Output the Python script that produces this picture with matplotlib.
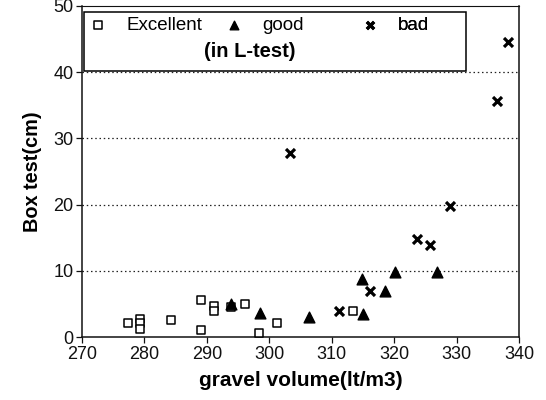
import matplotlib
matplotlib.use("Agg")
import matplotlib.pyplot as plt
from matplotlib.patches import Rectangle

plt.rcParams['font.family'] = ['Liberation Sans', 'DejaVu Sans']

# gravel volume (lt/m3) and box test (cm), grouped by L-test result
excellent_x = [277.3, 279.3, 279.3, 279.3, 284.2, 289.0, 289.0, 291.1, 291.1,
               293.8, 296.1, 298.4, 301.2, 313.4]
excellent_y = [2.1, 2.7, 2.2, 1.2, 2.6, 5.6, 1.1, 4.7, 4.0,
               4.5, 5.0, 0.7, 2.1, 4.0]

good_x = [293.8, 298.5, 306.3, 314.9, 315.0, 318.5, 320.1, 326.8]
good_y = [5.0, 3.6, 3.0, 8.8, 3.5, 6.9, 9.9, 9.9]

bad_x = [303.3, 311.1, 316.1, 323.7, 325.7, 328.9, 336.4, 338.2]
bad_y = [27.8, 4.0, 6.9, 14.9, 13.9, 19.8, 35.7, 44.5]

x_ticks = [270, 280, 290, 300, 310, 320, 330, 340]
y_ticks = [0, 10, 20, 30, 40, 50]

fig = plt.figure(figsize=(5.46, 4.0), dpi=100)
ax = fig.add_axes([0.150, 0.157, 0.801, 0.828])

ax.set_xlim(270, 340)
ax.set_ylim(0, 50)
ax.set_xticks(x_ticks)
ax.set_yticks(y_ticks)
ax.tick_params(labelsize=13, length=4, width=0.9, direction='out',
               colors='#111111', pad=2)

for y in y_ticks[1:-1]:
    ax.axhline(y, color='#222222', lw=0.9, ls=(0, (1.2, 2.2)), zorder=0)

for s in ax.spines.values():
    s.set_linewidth(1.1)
    s.set_color('#111111')
ax.spines['top'].set_linewidth(0.8)

h1 = ax.scatter(excellent_x, excellent_y, marker='s', s=40, facecolors='white',
                edgecolors='black', linewidths=1.1, zorder=3, label='Excellent')
h2 = ax.scatter(good_x, good_y, marker='^', s=60, color='black', zorder=4, label='good')
h3 = ax.scatter(bad_x, bad_y, marker='x', s=42, color='black', linewidths=2.3,
                zorder=4, label='bad')

# legend box with one entry per category, plus the caption line
ax.add_patch(Rectangle((0.005, 0.804), 0.873, 0.178, transform=ax.transAxes,
                       facecolor='white', edgecolor='black', lw=1.1, zorder=5))
entry_x = [0.0153, 0.326, 0.637]
for handle, ex in zip([h1, h2, h3], entry_x):
    lg = ax.legend(handles=[handle], frameon=False, fontsize=13.5,
                   loc='center left', bbox_to_anchor=(ex, 0.9427),
                   handlelength=1.0, handletextpad=1.0, borderpad=0.0,
                   borderaxespad=0.0, markerscale=0.8)
    lg.set_zorder(6)
    ax.add_artist(lg)
ax.text(0.384, 0.864, '(in L-test)', transform=ax.transAxes, ha='center',
        va='center', fontsize=14.5, fontweight='bold', zorder=7)

ax.set_xlabel('gravel volume(lt/m3)', fontsize=15, fontweight='bold', labelpad=6)
ax.set_ylabel('Box test(cm)', fontsize=14.3, fontweight='bold', labelpad=8)

fig.savefig('out.png', dpi=100)
